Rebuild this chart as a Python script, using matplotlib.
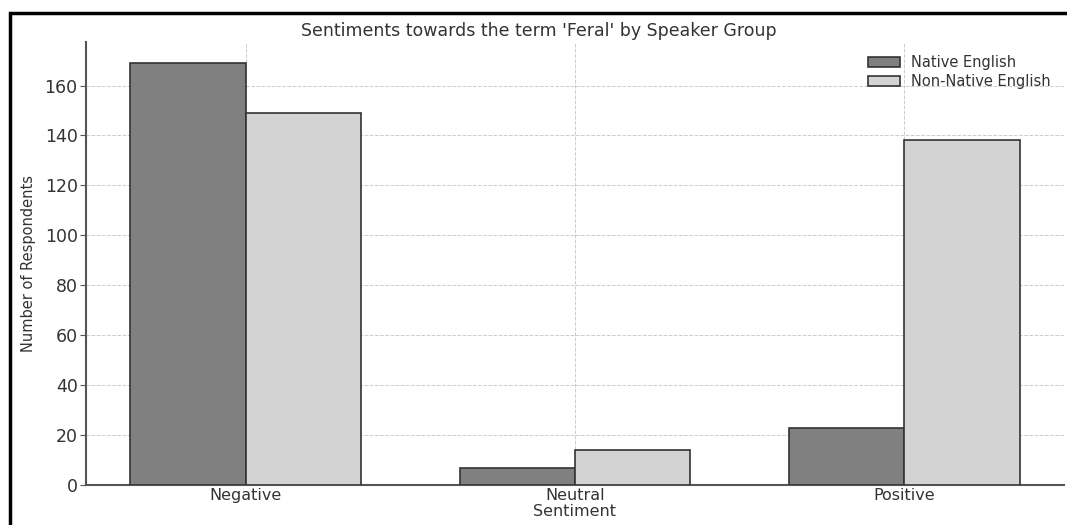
import numpy as np
import matplotlib
matplotlib.use("Agg")
import matplotlib.pyplot as plt
from matplotlib.patches import Rectangle

categories = ['Negative', 'Neutral', 'Positive']
native = [169, 7, 23]
non_native = [149, 14, 138]
series_labels = ['Native English', 'Non-Native English']

plt.rcParams['font.family'] = ['DejaVu Sans']
txt = '#333333'

fig = plt.figure(figsize=[10.67, 5.25], dpi=100)
ax = fig.add_axes([86/1067, 1-485/525, (1064-86)/1067, (485-42)/525])

x = np.arange(len(categories))
w = 0.35
ax.bar(x - w/2, native, w, color='gray', edgecolor='#333333', lw=1.2,
       label=series_labels[0], zorder=3)
ax.bar(x + w/2, non_native, w, color='lightgray', edgecolor='#333333', lw=1.2,
       label=series_labels[1], zorder=3)

ax.set_xticks(x)
ax.set_xticklabels(categories)
ax.set_yticks(range(0, 161, 20))
ax.grid(True, ls='--', lw=0.7, color='#cccccc', zorder=0)
for s in ['top', 'right']:
    ax.spines[s].set_visible(False)
for s in ['left', 'bottom']:
    ax.spines[s].set_color('#555555')
    ax.spines[s].set_linewidth(1.5)
ax.tick_params(axis='y', labelsize=12.5, colors='#555555', labelcolor=txt,
               length=4, pad=2)
ax.tick_params(axis='x', labelsize=11.5, colors='#555555', labelcolor=txt,
               length=0, pad=2.5)

ax.set_xlabel('Sentiment', fontsize=11.5, color=txt, labelpad=0.5)
ax.set_ylabel('Number of Respondents', fontsize=10.5, color=txt)
ax.yaxis.set_label_coords(-50/978, 0.5)
fig.text(539/1067, 1-36/525, "Sentiments towards the term 'Feral' by Speaker Group",
         ha='center', va='baseline', fontsize=12.5, color=txt)

leg = ax.legend(loc='upper right', frameon=False, fontsize=10.5,
                handlelength=2.2, labelspacing=0.25)
for t in leg.get_texts():
    t.set_color(txt)

# outer black frame (cropped on right and bottom)
fig.patches.append(Rectangle((10/1067, -0.1), 1.2, 1-13/525+0.1,
                             transform=fig.transFigure, fill=False,
                             edgecolor='black', lw=2.5, clip_on=False))

fig.savefig('out.png', dpi=100)
